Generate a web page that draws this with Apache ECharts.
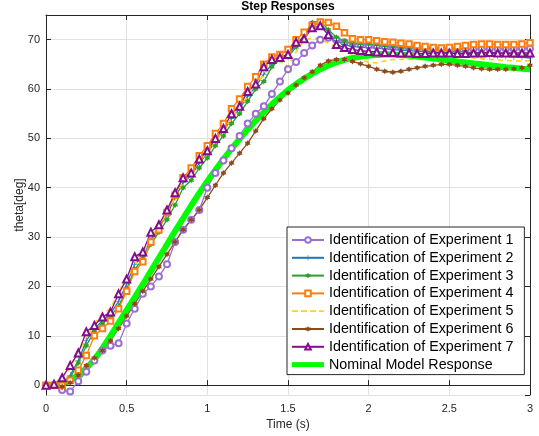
<!DOCTYPE html>
<html><head><meta charset="utf-8">
<script src="https://cdn.jsdelivr.net/npm/echarts@6/dist/echarts.min.js"></script>
<style>html,body{margin:0;padding:0;background:#fff}#c{width:539px;height:436px}</style>
</head><body><div id="c"></div><script>
const times=[0,0.05,0.1,0.15,0.2,0.25,0.3,0.35,0.4,0.45,0.5,0.55,0.6,0.65,0.7,0.75,0.8,0.85,0.9,0.95,1,1.05,1.1,1.15,1.2,1.25,1.3,1.35,1.4,1.45,1.5,1.55,1.6,1.65,1.7,1.75,1.8,1.85,1.9,1.95,2,2.05,2.1,2.15,2.2,2.25,2.3,2.35,2.4,2.45,2.5,2.55,2.6,2.65,2.7,2.75,2.8,2.85,2.9,2.95,3];
const exp1=[0,0,-1,-1.3,0.8,2.7,5,7,8,8.5,
12.5,15.5,18.5,20,22,24.5,29,31.5,33.5,35.5,
40,43,45.5,48,50.5,53,55,56.5,59,61.5,
64,65.5,67.3,68.8,70,70.4,70,69.5,69.2,69,
68.8,68.7,68.6,68.5,68.5,68.4,68.3,68.3,68.2,68.1,
68.1,68.1,68.1,68.1,68.1,68.1,68.1,68.1,68.1,68.2,
68.2];
const exp2=[0,0,-0.3,2,5,9,11.5,13,14.5,17,
20.5,24.5,26,29.5,32,34.5,38,41,42.5,45,
47,49.5,51.5,54,56,58.5,60.5,63,65,66,
66.8,69,70.8,73,73.2,71.5,69.8,69,68.6,68.5,
68.4,68.3,68.2,68,67.9,67.8,67.7,67.6,67.5,67.4,
67.3,67.2,67.1,67,66.9,66.8,66.7,66.6,66.5,66.4,
66.3];
const exp3=[0,0,-0.5,1.5,4.5,8,11,12.5,14,16,
19.5,23.5,25.5,28.5,31,33.5,36.5,40,41.5,44,
46,48.5,50.5,53,55,57.5,60,61.5,64.5,66,
66.5,68.5,71,73.5,73.8,72,70.5,69.7,69.3,69.2,
69.1,69,68.8,68.6,68.4,68.3,68.2,68,67.9,67.8,
67.7,67.6,67.5,67.4,67.3,67.3,67.2,67.2,67.1,67,
67];
const exp4=[0,0,0,1,3,6,10,11.5,13,15.5,
19,23,25,29,31.5,35,38.5,42,44,46.5,
48.5,51,53,56,58,60.5,62.5,65,66.5,67,
68,70,71.5,72.8,73.6,73.5,72.7,71.4,70.2,70,
70,69.8,69.6,69.5,69.3,69.1,68.8,68.6,68.4,68.3,
68.4,68.6,68.8,69,69.1,69.1,69,69,69,69.1,
69.4];
const exp5=[0,0.3,1.5,3.5,6.5,9.5,12.5,14.5,15.5,19,
21.5,24.5,26.5,30,32,35,38,41,43,45.5,
47,49.5,51.5,54,56,58.5,60.5,63,65,65.7,
64.5,67.5,69.8,70.4,70,69.3,68.4,67.8,67,66,
65.4,65.3,65.7,66,66,66,66,66,66,66.1,
66.3,66.5,66.5,66.3,66.1,66,65.9,65.8,65.7,65.7,
65.7];
const exp6=[0,-0.2,-0.3,0.5,2,4,5.5,7,9,11.5,
14,16.5,19,21.5,24,26.5,29,31.5,33.5,35.5,
38,40.5,43,45,47,49,51.5,54,56,57.8,
59.2,60.8,62.3,63.5,64.8,65.7,66,66,65.6,65.1,
64.6,64,63.6,63.4,63.6,64,64.3,64.6,64.8,65,
65,64.8,64.6,64.3,64.1,64,64,64,64.1,64.3,
64.8];
const exp7=[0,0.2,1.5,4,6.5,10.8,12.1,13.8,14.8,18.5,
21.5,26,27,31,32.5,35.5,39,42,43,45.8,
47.5,50,52,55,56.5,59.5,61,64.5,66,66.4,
67,69.5,70.2,72.4,72.8,71,69,68.4,68,67.8,
67.6,67.5,67.4,67.4,67.3,67.3,67.2,67.2,67.3,67.3,
67.3,67.2,67.2,67.3,67.3,67.4,67.3,67.3,67.3,67.3,
67.3];
const nominal=[0,0.1,0.4,1,2,3.4,5.2,7.5,10,12.6,
15.2,17.8,20.4,23.1,25.8,28.5,31.2,33.8,36.4,38.9,
41.3,43.6,45.8,47.9,49.9,51.8,53.6,55.3,56.9,58.4,
59.8,61,62.1,63.1,64,64.8,65.4,65.9,66.3,66.6,
66.8,66.9,67,67,66.9,66.8,66.6,66.4,66.2,66,
65.8,65.6,65.4,65.2,65,64.8,64.6,64.4,64.3,64.1,
64];
const names=['Identification of Experiment 1','Identification of Experiment 2','Identification of Experiment 3','Identification of Experiment 4','Identification of Experiment 5','Identification of Experiment 6','Identification of Experiment 7','Nominal Model Response'];
const xTicks=['0','0.5','1','1.5','2','2.5','3'];

const font='"Liberation Sans", Arial, sans-serif';
const axisColor='#262626';
const HEX='path://M0,-10L2.887,-5L8.66,-5L5.774,0L8.66,5L2.887,5L0,10L-2.887,5L-8.66,5L-5.774,0L-8.66,-5L-2.887,-5Z';
const PLUS='path://M-1,-10L1,-10L1,-1L10,-1L10,1L1,1L1,10L-1,10L-1,1L-10,1L-10,-1L-1,-1Z';
const DASH_ICON='path://M0,0H6V1.8H0ZM9,0H15V1.8H9ZM18,0H24V1.8H18ZM27,0H32V1.8H27Z';
const THICK_ICON='path://M0,0H32V5H0Z';
function pts(arr){return times.map((t,i)=>[t,arr[i]]);}
function mk(name,arr,color,symbol,size,extra){
  return Object.assign({name:name,type:'line',data:pts(arr),symbol:symbol,symbolSize:size,showSymbol:true,showAllSymbol:true,
    lineStyle:{color:color,width:1.3},itemStyle:{color:color,borderWidth:1},emphasis:{disabled:true}},extra||{});
}
const series=[
  mk(names[0],exp1,'#9A70D2','emptyCircle',6),
  mk(names[1],exp2,'#1F77B4',PLUS,6),
  mk(names[2],exp3,'#2CA02C',HEX,6),
  mk(names[3],exp4,'#FF7F0E','emptyRect',5.5),
  mk(names[4],exp5,'#FFD21A','none',1,{showSymbol:false,lineStyle:{color:'#FFD21A',width:1.6,type:[5,4]}}),
  mk(names[5],exp6,'#8F4A1C',HEX,6),
  mk(names[6],exp7,'#850C8C','emptyTriangle',7),
  mk(names[7],nominal,'#00FF00','none',1,{showSymbol:false,lineStyle:{color:'#00FF00',width:6}})
];
const legendData=names.map((n,i)=>{
  if(i===4) return {name:n,icon:DASH_ICON};
  if(i===7) return {name:n,icon:THICK_ICON};
  return {name:n};
});
const chart=echarts.init(document.getElementById('c'),null,{renderer:'canvas'});
chart.setOption({
  animation:false,backgroundColor:'#fff',
  textStyle:{fontFamily:font},
  title:{text:'Step Responses',left:288,top:1,padding:0,textAlign:'center',
    textStyle:{fontSize:12,fontWeight:'bold',color:'#000',fontFamily:font}},
  grid:{left:46,right:9,top:15,bottom:40,containLabel:false},
  xAxis:[{type:'value',min:0,max:3,interval:0.5,
    axisLine:{show:true,lineStyle:{color:axisColor}},
    axisTick:{inside:true,length:5,lineStyle:{color:axisColor}},
    axisLabel:{color:axisColor,fontSize:11,margin:8,formatter:(v)=>xTicks[Math.round(v*2)]},
    splitLine:{show:true,lineStyle:{color:'#e2e2e2'}},
    name:'Time (s)',nameLocation:'middle',nameGap:24,nameMoveOverlap:false,nameTextStyle:{color:axisColor,fontSize:12}},
   {type:'value',position:'top',min:0,max:3,interval:0.5,
    axisLine:{show:true,onZero:false,lineStyle:{color:axisColor}},
    axisTick:{inside:true,length:5,lineStyle:{color:axisColor}},
    axisLabel:{show:false},splitLine:{show:false}}],
  yAxis:[{type:'value',min:-2,max:75,splitNumber:8,
    axisLine:{show:true,onZero:false,lineStyle:{color:axisColor}},
    axisTick:{inside:true,length:5,lineStyle:{color:axisColor}},
    axisLabel:{color:axisColor,fontSize:11,margin:6,showMinLabel:false,showMaxLabel:false},
    splitLine:{show:true,lineStyle:{color:'#e2e2e2'}},
    name:'theta[deg]',nameLocation:'middle',nameGap:20,nameMoveOverlap:false,nameTextStyle:{color:axisColor,fontSize:12}},
   {type:'value',position:'right',min:-2,max:75,splitNumber:8,
    axisLine:{show:true,onZero:false,lineStyle:{color:axisColor}},
    axisTick:{inside:true,length:5,lineStyle:{color:axisColor}},
    axisLabel:{show:false},splitLine:{show:false}}],
  legend:{orient:'vertical',left:287,top:227,padding:[6,11,3,4],itemGap:3.8,itemWidth:32,itemHeight:7,
    backgroundColor:'#fff',borderColor:axisColor,borderWidth:1,borderRadius:0,
    textStyle:{fontSize:14.3,color:'#000',fontFamily:font,lineHeight:14},data:legendData},
  series:series
});
</script></body></html>
